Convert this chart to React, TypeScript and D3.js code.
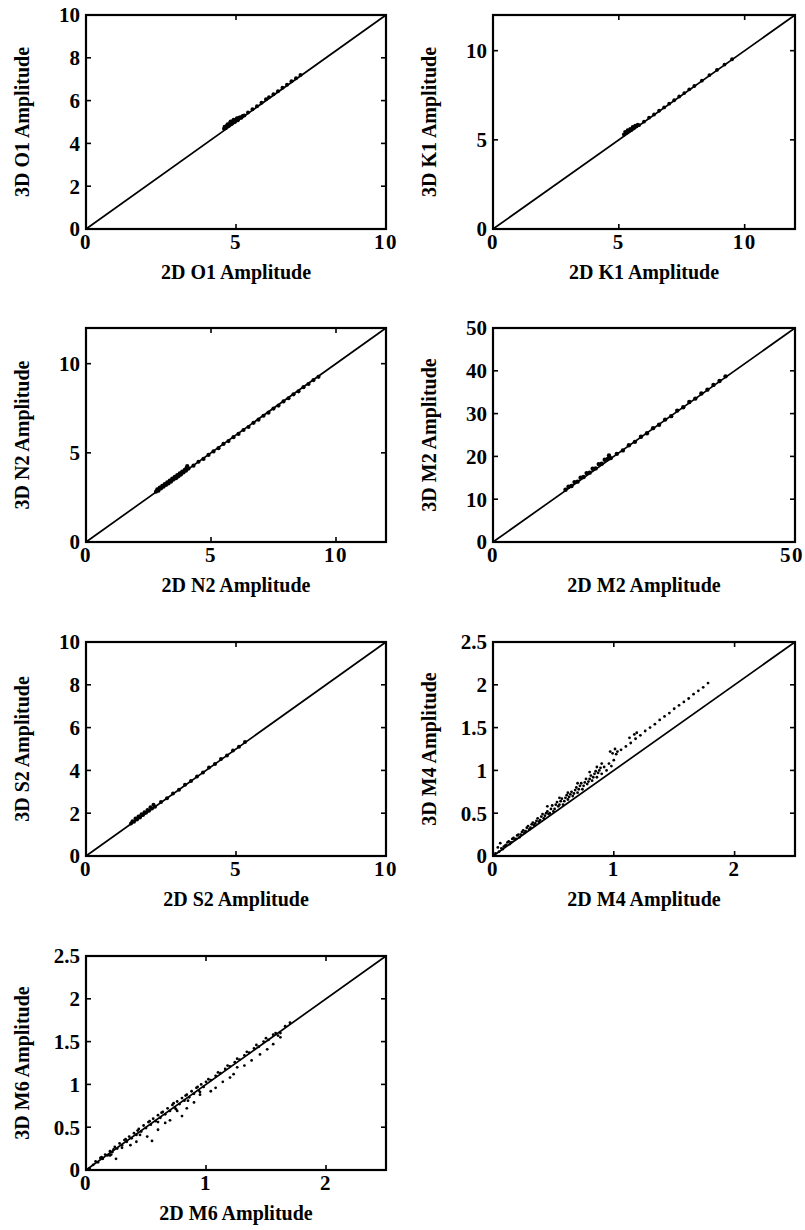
import React from "react";
import * as d3 from "d3";

// 2D vs 3D tidal amplitude comparison, seven panels
const FONT = "Liberation Serif, Times New Roman, DejaVu Serif, serif";

const o1XTicks = [0, 5, 10];
const o1YTicks = [0, 2, 4, 6, 8, 10];
const k1XTicks = [0, 5, 10];
const k1YTicks = [0, 5, 10];
const n2XTicks = [0, 5, 10];
const n2YTicks = [0, 5, 10];
const m2XTicks = [0, 50];
const m2YTicks = [0, 10, 20, 30, 40, 50];
const s2XTicks = [0, 5, 10];
const s2YTicks = [0, 2, 4, 6, 8, 10];
const m4XTicks = [0, 1, 2];
const m4YTicks = [0, 0.5, 1, 1.5, 2, 2.5];
const m6XTicks = [0, 1, 2];
const m6YTicks = [0, 0.5, 1, 1.5, 2, 2.5];

const o1Points: [number, number][] = [
  [4.6, 4.68], [4.62, 4.78], [4.66, 4.72], [4.7, 4.84], [4.72, 4.9], [4.76, 4.82], [4.8, 4.95],
  [4.82, 5.02], [4.86, 4.92], [4.9, 5.05], [4.92, 5.1], [4.96, 5.0], [5.0, 5.12], [5.03, 5.18],
  [5.06, 5.08], [5.1, 5.2], [5.14, 5.22], [5.18, 5.2], [5.22, 5.28], [5.28, 5.3],
  [5.4, 5.44], [5.55, 5.6], [5.7, 5.74], [5.85, 5.9], [6.0, 6.06], [6.1, 6.16], [6.25, 6.3],
  [6.4, 6.44], [6.55, 6.6], [6.7, 6.74], [6.85, 6.9], [7.0, 7.04], [7.15, 7.2],
];

const k1Points: [number, number][] = [
  [5.2, 5.3], [5.25, 5.45], [5.3, 5.38], [5.35, 5.55], [5.4, 5.48], [5.45, 5.62], [5.5, 5.55],
  [5.55, 5.72], [5.6, 5.65], [5.65, 5.8], [5.7, 5.75], [5.75, 5.85], [5.8, 5.82],
  [6.0, 6.02], [6.2, 6.24], [6.4, 6.42], [6.6, 6.63], [6.8, 6.82], [7.0, 7.03], [7.2, 7.22],
  [7.4, 7.43], [7.6, 7.62], [7.8, 7.83], [8.0, 8.02], [8.3, 8.32], [8.6, 8.63], [8.9, 8.92],
  [9.2, 9.22], [9.5, 9.52],
];

const n2Points: [number, number][] = [
  [2.8, 2.82], [2.85, 2.95], [2.9, 2.88], [2.95, 3.05], [3.0, 3.0], [3.05, 3.15], [3.1, 3.1],
  [3.15, 3.25], [3.2, 3.2], [3.25, 3.35], [3.3, 3.28], [3.35, 3.45], [3.4, 3.38], [3.45, 3.55],
  [3.5, 3.5], [3.55, 3.65], [3.6, 3.58], [3.65, 3.75], [3.7, 3.68], [3.75, 3.85], [3.8, 3.78],
  [3.85, 3.95], [3.9, 3.9], [3.95, 4.05], [4.0, 4.0], [4.02, 4.15], [4.05, 4.25], [4.1, 4.12],
  [4.3, 4.28], [4.5, 4.5], [4.7, 4.66], [4.9, 4.88], [5.1, 5.08], [5.3, 5.26], [5.5, 5.5],
  [5.7, 5.66], [5.9, 5.88], [6.1, 6.06], [6.3, 6.28], [6.5, 6.45], [6.7, 6.68], [6.9, 6.86],
  [7.1, 7.08], [7.3, 7.25], [7.5, 7.48], [7.7, 7.65], [7.9, 7.88], [8.1, 8.06], [8.3, 8.28],
  [8.5, 8.45], [8.7, 8.68], [8.9, 8.86], [9.1, 9.08], [9.3, 9.26],
];

const m2Points: [number, number][] = [
  [12.0, 12.2], [12.5, 12.9], [13.0, 13.1], [13.5, 14.0], [14.0, 14.1], [14.5, 15.0], [15.0, 15.2],
  [15.5, 16.1], [16.0, 16.2], [16.5, 17.1], [17.0, 17.2], [17.5, 18.2], [18.0, 18.3], [18.5, 19.2],
  [19.0, 19.4], [19.2, 20.2], [19.5, 19.6],
  [20.5, 20.6], [21.5, 21.4], [22.5, 22.6], [23.5, 23.4], [24.5, 24.6], [25.5, 25.4], [26.5, 26.6],
  [27.5, 27.4], [28.5, 28.6], [29.5, 29.4], [30.5, 30.7], [31.5, 31.5], [32.5, 32.7], [33.5, 33.5],
  [34.5, 34.7], [35.5, 35.6], [36.5, 36.7], [37.5, 37.6], [38.5, 38.7],
];

const s2Points: [number, number][] = [
  [1.5, 1.52], [1.55, 1.62], [1.6, 1.6], [1.65, 1.75], [1.7, 1.7], [1.75, 1.85], [1.8, 1.8],
  [1.85, 1.95], [1.9, 1.92], [1.95, 2.05], [2.0, 2.02], [2.05, 2.15], [2.1, 2.12], [2.15, 2.28],
  [2.2, 2.22], [2.25, 2.4], [2.3, 2.3],
  [2.5, 2.52], [2.7, 2.7], [2.9, 2.92], [3.1, 3.1], [3.3, 3.33], [3.5, 3.5], [3.7, 3.72],
  [3.9, 3.9], [4.1, 4.13], [4.3, 4.3], [4.5, 4.53], [4.7, 4.7], [4.9, 4.93], [5.1, 5.1], [5.3, 5.33],
];

const m4Points: [number, number][] = [
  [0.02, 0.03], [0.04, 0.1], [0.05, 0.05], [0.06, 0.15], [0.08, 0.08], [0.1, 0.12], [0.12, 0.16],
  [0.14, 0.14], [0.16, 0.2], [0.18, 0.19], [0.2, 0.24], [0.22, 0.22], [0.24, 0.28], [0.26, 0.27],
  [0.28, 0.33], [0.3, 0.31], [0.32, 0.37], [0.34, 0.36], [0.36, 0.41], [0.38, 0.4], [0.4, 0.46],
  [0.42, 0.44], [0.44, 0.5], [0.46, 0.49], [0.48, 0.55], [0.5, 0.52], [0.52, 0.6], [0.54, 0.58],
  [0.56, 0.64], [0.58, 0.6], [0.6, 0.68], [0.62, 0.66], [0.64, 0.72], [0.66, 0.7], [0.68, 0.77],
  [0.7, 0.74], [0.72, 0.82], [0.74, 0.78], [0.76, 0.86], [0.78, 0.84], [0.8, 0.9], [0.82, 0.88],
  [0.84, 0.96], [0.86, 0.92], [0.88, 1.0], [0.9, 0.96], [0.92, 1.04], [0.94, 1.0], [0.96, 1.08],
  [0.98, 1.05], [1.0, 1.12],
  [0.07, 0.09], [0.09, 0.11], [0.11, 0.13], [0.13, 0.17], [0.15, 0.16], [0.17, 0.21], [0.19, 0.2],
  [0.21, 0.25], [0.23, 0.25], [0.25, 0.3], [0.27, 0.29], [0.29, 0.35], [0.31, 0.33], [0.33, 0.39],
  [0.35, 0.38], [0.37, 0.44], [0.39, 0.42], [0.41, 0.49], [0.43, 0.47], [0.45, 0.52], [0.47, 0.5],
  [0.49, 0.59], [0.51, 0.55], [0.53, 0.63], [0.55, 0.6], [0.57, 0.67], [0.59, 0.64], [0.61, 0.71],
  [0.63, 0.69], [0.65, 0.75], [0.67, 0.73], [0.69, 0.8], [0.71, 0.78], [0.73, 0.85], [0.75, 0.82],
  [0.77, 0.9], [0.79, 0.87], [0.81, 0.94], [0.83, 0.92], [0.85, 0.99], [0.87, 0.97], [0.89, 1.03],
  [0.45, 0.58], [0.55, 0.68], [0.62, 0.74], [0.7, 0.85], [0.8, 0.98], [0.86, 1.04], [0.9, 1.08],
  [0.97, 1.22], [0.99, 1.2], [1.03, 1.22], [1.01, 1.25], [1.13, 1.38], [1.17, 1.42], [1.19, 1.44],
  [1.02, 1.19], [1.06, 1.24], [1.1, 1.28], [1.14, 1.32], [1.18, 1.37], [1.22, 1.41], [1.26, 1.46],
  [1.3, 1.5], [1.34, 1.54], [1.38, 1.59], [1.42, 1.63], [1.46, 1.67], [1.5, 1.72], [1.54, 1.76],
  [1.58, 1.8], [1.62, 1.84], [1.66, 1.89], [1.7, 1.93], [1.74, 1.97], [1.78, 2.02],
];

const m6Points: [number, number][] = [
  [0.03, 0.02], [0.06, 0.06], [0.08, 0.1], [0.1, 0.09], [0.12, 0.14], [0.14, 0.13], [0.16, 0.18],
  [0.18, 0.17], [0.2, 0.22], [0.22, 0.21], [0.24, 0.27], [0.26, 0.25], [0.28, 0.31], [0.3, 0.29],
  [0.32, 0.35], [0.34, 0.33], [0.36, 0.39], [0.38, 0.37], [0.4, 0.43], [0.42, 0.41], [0.44, 0.48],
  [0.46, 0.45], [0.48, 0.52], [0.5, 0.49], [0.52, 0.56], [0.54, 0.53], [0.56, 0.6], [0.58, 0.57],
  [0.6, 0.64], [0.62, 0.61], [0.64, 0.68], [0.66, 0.65], [0.68, 0.72], [0.7, 0.69], [0.72, 0.76],
  [0.74, 0.73], [0.76, 0.8], [0.78, 0.77], [0.8, 0.84], [0.82, 0.81], [0.84, 0.88], [0.86, 0.85],
  [0.88, 0.92], [0.9, 0.89], [0.92, 0.96], [0.94, 0.93], [0.96, 1.0], [0.98, 0.97], [1.0, 1.03],
  [1.04, 1.05], [1.08, 1.1], [1.12, 1.13], [1.16, 1.18], [1.2, 1.21], [1.24, 1.26], [1.28, 1.29],
  [1.32, 1.34], [1.36, 1.37], [1.4, 1.42], [1.44, 1.44], [1.48, 1.5], [1.52, 1.52], [1.56, 1.58],
  [1.6, 1.57], [1.62, 1.6], [1.66, 1.68], [1.7, 1.72],
  [0.13, 0.15], [0.23, 0.24], [0.33, 0.36], [0.43, 0.46], [0.53, 0.57], [0.63, 0.67], [0.73, 0.78],
  [0.83, 0.87], [0.93, 0.97], [1.02, 1.06], [1.1, 1.14], [1.18, 1.22], [1.26, 1.3], [1.34, 1.38],
  [1.42, 1.46], [1.5, 1.54], [1.58, 1.6],
  [0.2, 0.17], [0.3, 0.26], [0.45, 0.41], [0.6, 0.56], [0.75, 0.71], [0.85, 0.81], [0.95, 0.91],
  [0.21, 0.18], [0.25, 0.13], [0.37, 0.29], [0.42, 0.33], [0.51, 0.39], [0.55, 0.34], [0.6, 0.47],
  [0.66, 0.55], [0.7, 0.58], [0.76, 0.69], [0.8, 0.63], [0.84, 0.72], [0.9, 0.79], [0.95, 0.88],
  [1.04, 0.92], [1.08, 0.96], [1.14, 1.03], [1.2, 1.08], [1.23, 1.12], [1.26, 1.2], [1.32, 1.22],
  [1.38, 1.28], [1.45, 1.35], [1.51, 1.41], [1.56, 1.47], [1.62, 1.55],
];

type PanelDef = {
  name: string;
  col: number;
  row: number;
  max: number;
  xTicks: number[];
  yTicks: number[];
  points: [number, number][];
  r: number;
};

const panels: PanelDef[] = [
  { name: "O1", col: 0, row: 0, max: 10, xTicks: o1XTicks, yTicks: o1YTicks, points: o1Points, r: 2.0 },
  { name: "K1", col: 1, row: 0, max: 12, xTicks: k1XTicks, yTicks: k1YTicks, points: k1Points, r: 1.9 },
  { name: "N2", col: 0, row: 1, max: 12, xTicks: n2XTicks, yTicks: n2YTicks, points: n2Points, r: 2.1 },
  { name: "M2", col: 1, row: 1, max: 50, xTicks: m2XTicks, yTicks: m2YTicks, points: m2Points, r: 2.2 },
  { name: "S2", col: 0, row: 2, max: 10, xTicks: s2XTicks, yTicks: s2YTicks, points: s2Points, r: 2.0 },
  { name: "M4", col: 1, row: 2, max: 2.5, xTicks: m4XTicks, yTicks: m4YTicks, points: m4Points, r: 1.4 },
  { name: "M6", col: 0, row: 3, max: 2.5, xTicks: m6XTicks, yTicks: m6YTicks, points: m6Points, r: 1.4 },
];

const colLeft = [86, 493];
const colWidth = [300, 302];
const rowTop = [15, 328, 642, 956];
const panelHeight = 214;
const tickLen = 5;

function Panel({ p }: { p: PanelDef }) {
  const left = colLeft[p.col];
  const w = colWidth[p.col];
  const top = rowTop[p.row];
  const bottom = top + panelHeight;
  const right = left + w;
  const x = d3.scaleLinear().domain([0, p.max]).range([left, right]);
  const y = d3.scaleLinear().domain([0, p.max]).range([bottom, top]);
  const textStyle = { fontFamily: FONT, fontWeight: 700 };

  return (
    <g>
      {/* 1:1 line */}
      <line x1={x(0)} y1={y(0)} x2={x(p.max)} y2={y(p.max)} stroke="#000" strokeWidth={1.7} />
      {p.points.map((d, i) => (
        <circle key={i} cx={x(d[0])} cy={y(d[1])} r={p.r} fill="#000" />
      ))}
      {/* ticks, inward on all sides */}
      {p.xTicks.map((t) => {
        const px = x(t);
        const nearEdge = px > 780;
        return (
          <g key={"xt" + t}>
            <line x1={px} x2={px} y1={bottom} y2={bottom - tickLen} stroke="#000" strokeWidth={1.6} />
            <line x1={px} x2={px} y1={top} y2={top + tickLen} stroke="#000" strokeWidth={1.6} />
            <text
              x={nearEdge ? 804 : px}
              y={bottom + 20}
              textAnchor={nearEdge ? "end" : "middle"}
              style={{ ...textStyle, fontSize: 21 }}
              letterSpacing={1.5}
            >
              {String(t)}
            </text>
          </g>
        );
      })}
      {p.yTicks.map((t) => (
        <g key={"yt" + t}>
          <line x1={left} x2={left + tickLen} y1={y(t)} y2={y(t)} stroke="#000" strokeWidth={1.6} />
          <line x1={right} x2={right - tickLen} y1={y(t)} y2={y(t)} stroke="#000" strokeWidth={1.6} />
          <text x={left - 6} y={y(t)} dy="0.35em" textAnchor="end" style={{ ...textStyle, fontSize: 21 }}>
            {String(t)}
          </text>
        </g>
      ))}
      <rect x={left} y={top} width={w} height={panelHeight} fill="none" stroke="#000" strokeWidth={2.2} />
      <text x={(left + right) / 2} y={bottom + 50} textAnchor="middle" style={{ ...textStyle, fontSize: 20 }}>
        {`2D ${p.name} Amplitude`}
      </text>
      <text
        transform={`translate(${left - 57},${(top + bottom) / 2}) rotate(-90)`}
        textAnchor="middle"
        style={{ ...textStyle, fontSize: 20 }}
      >
        {`3D ${p.name} Amplitude`}
      </text>
    </g>
  );
}

export default function App() {
  return (
    <svg width={805} height={1230} style={{ position: "absolute", left: 0, top: 0, background: "#fff" }}>
      <rect width={805} height={1230} fill="#fff" />
      {panels.map((p) => (
        <Panel key={p.name} p={p} />
      ))}
    </svg>
  );
}
